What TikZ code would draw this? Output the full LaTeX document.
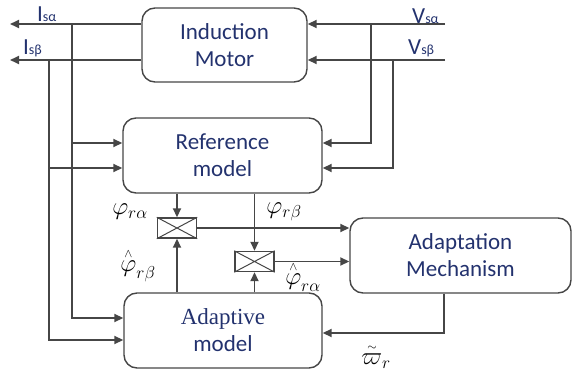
\documentclass[tikz,border=0pt]{standalone}
\usepackage{fontspec}
\setmainfont{Carlito}
\newfontfamily\seriffont{Liberation Serif}
\usetikzlibrary{arrows.meta}
\definecolor{txt}{RGB}{35,50,110}
\definecolor{ln}{RGB}{70,70,70}
\tikzset{
 blk/.style={draw=ln,line width=1.4pt,rounded corners=13pt,align=center,text=txt,font=\fontsize{23}{27}\selectfont,inner sep=0pt},
 mult/.style={draw=ln,line width=1.4pt,minimum width=39pt,minimum height=20pt,inner sep=0pt},
 arr/.style={draw=ln,line width=1.7pt,-{Triangle[length=9pt,width=8pt]}},
 cross/.style={draw=ln,line width=1pt},
 sig/.style={text=txt,font=\fontsize{23}{23}\selectfont,inner sep=0pt,anchor=base west},
 mlab/.style={font=\fontsize{24}{24}\selectfont,inner sep=0pt}
}
\newcommand{\subsz}[1]{{\fontsize{14}{14}\selectfont #1}}
\newcommand{\hatphi}{\mathord{\stackrel{\raisebox{1pt}{$\scriptscriptstyle\wedge$}}{\varphi}}}
\newcommand{\tildepi}{\mathord{\stackrel{\raisebox{1pt}{$\scriptscriptstyle\sim$}}{\varpi}}}
\begin{document}
\begin{tikzpicture}[x=1pt,y=-1pt]
\useasboundingbox (0,0) rectangle (573,374);
% blocks
\node[blk,minimum width=165pt,minimum height=74pt] (IM) at (224.5,45) {Induction\\Motor};
\node[blk,minimum width=199pt,minimum height=75pt] (ref) at (222.5,155.5) {Reference\\model};
\node[blk,minimum width=221pt,minimum height=75pt] (adp) at (460.5,255.5) {Adaptation\\Mechanism};
\node[blk,minimum width=198pt,minimum height=75pt] (am) at (223,330.5) {{\seriffont Adaptive}\\model};
% multipliers
\node[mult] (m1) at (177,228) {};
\node[mult] (m2) at (254.5,261.5) {};
\draw[cross] (m1.north west) -- (m1.south east) (m1.north east) -- (m1.south west);
\draw[cross] (m2.north west) -- (m2.south east) (m2.north east) -- (m2.south west);
% free ends and taps
\coordinate (isa) at (10,24);
\coordinate (isb) at (10,60);
\coordinate (vsa) at (445,24);
\coordinate (vsb) at (445,60);
\coordinate (ja) at (72,24);
\coordinate (jb) at (49,60);
\coordinate (ka) at (371,24);
\coordinate (kb) at (393,60);
% motor connections
\draw[arr] (IM.west |- isa) -- (isa);
\draw[arr] (IM.west |- isb) -- (isb);
\draw[arr] (vsa) -- (IM.east |- vsa);
\draw[arr] (vsb) -- (IM.east |- vsb);
% current taps
\draw[arr] (ja) |- (am.west |- 0,318);
\draw[arr] (ja |- 0,143) -- (ref.west |- 0,143);
\draw[arr] (jb) |- (am.west |- 0,340);
\draw[arr] (jb |- 0,168) -- (ref.west |- 0,168);
% voltage taps
\draw[arr] (ka) |- (ref.east |- 0,143);
\draw[arr] (kb) |- (ref.east |- 0,168);
% reference outputs
\draw[arr] (ref.south -| m1) -- (m1.north);
\draw[arr] (ref.south -| m2) -- (m2.north);
% adaptive outputs
\draw[arr] (am.north -| m1) -- (m1.south);
\draw[arr] (am.north -| m2) -- (m2.south);
% multiplier outputs
\draw[arr] (m1.east) -- (adp.west |- m1.east);
\draw[arr] (m2.east) -- (adp.west |- m2.east);
% feedback
\draw[arr] (adp.south -| 444,0) |- (am.east |- 0,333);
% signal labels
\node[sig] (lisa) at (37,22) {I\subsz{sα}};
\node[sig] (lisb) at (23,55) {I\subsz{sβ}};
\node[sig] (lvsa) at (412,24) {V\subsz{sα}};
\node[sig] (lvsb) at (408,55) {V\subsz{sβ}};
\node[mlab] (lpra) at (130,212) {$\varphi_{r\alpha}$};
\node[mlab] (lprb) at (284,212) {$\varphi_{r\beta}$};
\node[mlab] (lhrb) at (138,266) {$\hatphi_{r\beta}$};
\node[mlab] (lhra) at (303,277) {$\hatphi_{r\alpha}$};
\node[mlab] (lw) at (376,357) {$\tildepi_{r}$};
\end{tikzpicture}
\end{document}
